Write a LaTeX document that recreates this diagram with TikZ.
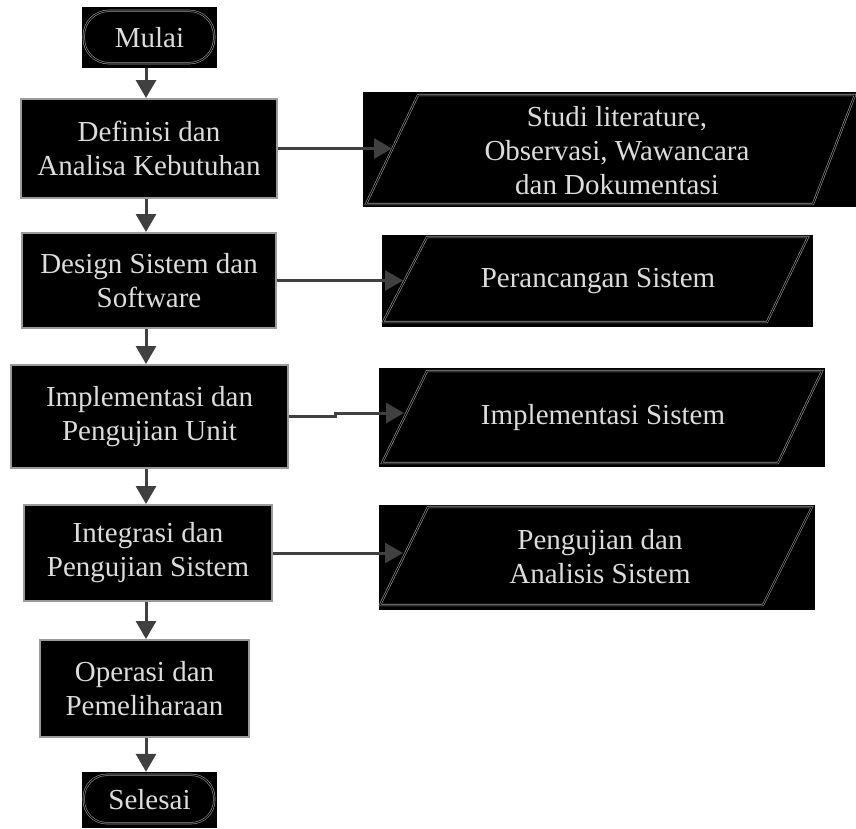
\documentclass[tikz,border=0pt]{standalone}
\usepackage{fontspec}
\setmainfont{Liberation Serif}
\usetikzlibrary{arrows.meta,calc}
\definecolor{txt}{HTML}{DCDCDC}
\definecolor{arrc}{HTML}{404040}
\definecolor{bord}{HTML}{9A9A9A}
\begin{document}
\begin{tikzpicture}[x=1pt,y=-1pt,
  lbl/.style={text=txt, align=center, font=\fontsize{29}{34}\selectfont},
  proc/.style={lbl, rectangle, fill=black, draw=bord, line width=2pt, inner sep=0pt},
  blackbg/.style={lbl, rectangle, fill=black, inner sep=0pt},
  outl/.style={draw=bord, double=black, double distance=1pt, line width=0.6pt},
  arr/.style={draw=arrc, line width=3pt, -{Triangle[length=18pt,width=20pt]}}]
\useasboundingbox (0,0) rectangle (856,828);
\coordinate (spine) at (146,0);
% terminals
\node[blackbg, minimum width=135pt, minimum height=61pt] (mulai) at (149.5,37.5) {Mulai};
\draw[outl, rounded corners=25pt] ($(mulai.north west)+(2,4)$) rectangle ($(mulai.south east)+(-3,-5)$);
\node[blackbg, minimum width=135pt, minimum height=56pt] (selesai) at (149.5,800) {Selesai};
\draw[outl, rounded corners=23pt] ($(selesai.north west)+(2,3)$) rectangle ($(selesai.south east)+(-3,-5)$);
% process boxes
\node[proc, minimum width=256pt, minimum height=99pt] (b1) at (149,148.5) {Definisi dan\\Analisa Kebutuhan};
\node[proc, minimum width=254pt, minimum height=95pt] (b2) at (149,280.5) {Design Sistem dan\\Software};
\node[proc, minimum width=277pt, minimum height=103pt] (b3) at (149.5,416.5) {Implementasi dan\\Pengujian Unit};
\node[proc, minimum width=248pt, minimum height=96pt] (b4) at (148,553) {Integrasi dan\\Pengujian Sistem};
\node[proc, minimum width=209pt, minimum height=97pt] (b5) at (144.5,688.5) {Operasi dan\\Pemeliharaan};
% data (parallelogram) boxes
\node[blackbg, minimum width=493pt, minimum height=115pt] (p1) at (609.5,149.5) {};
\draw[outl] (366,204) -- (418,95) -- (855,95) -- (813,204) -- cycle;
\node[lbl] (p1t) at (617,151) {Studi literature,\\Observasi, Wawancara\\dan Dokumentasi};
\node[blackbg, minimum width=431pt, minimum height=92pt] (p2) at (597.5,281) {};
\draw[outl] (383,322) -- (427,237) -- (808,237) -- (767,322) -- cycle;
\node[lbl] (p2t) at (598,281) {Perancangan Sistem};
\node[blackbg, minimum width=446pt, minimum height=99pt] (p3) at (602,417.5) {};
\draw[outl] (382,463) -- (427,371) -- (822,371) -- (778,463) -- cycle;
\node[lbl] (p3t) at (603,418) {Implementasi Sistem};
\node[blackbg, minimum width=436pt, minimum height=105pt] (p4) at (597,557.5) {};
\draw[outl] (380,605) -- (428,507) -- (812,507) -- (763,605) -- cycle;
\node[lbl] (p4t) at (600,557) {Pengujian dan\\Analisis Sistem};
% connectors
\draw[arr] (mulai.south -| spine) -- (b1.north -| spine);
\draw[arr] (b1.south -| spine) -- (b2.north -| spine);
\draw[arr] (b2.south -| spine) -- (b3.north -| spine);
\draw[arr] (b3.south -| spine) -- (b4.north -| spine);
\draw[arr] (b4.south -| spine) -- (b5.north -| spine);
\draw[arr] (b5.south -| spine) -- (selesai.north -| spine);
\coordinate (e1) at (392,148.5);
\coordinate (e2) at (403,280.5);
\coordinate (k3) at (335,413);
\coordinate (e3) at (404,413);
\coordinate (e4) at (403,553);
\draw[arr] (b1.east) -- (e1);
\draw[arr] (b2.east) -- (e2);
\draw[arr] (b3.east) -| (k3) -- (e3);
\draw[arr] (b4.east) -- (e4);
\end{tikzpicture}
\end{document}
